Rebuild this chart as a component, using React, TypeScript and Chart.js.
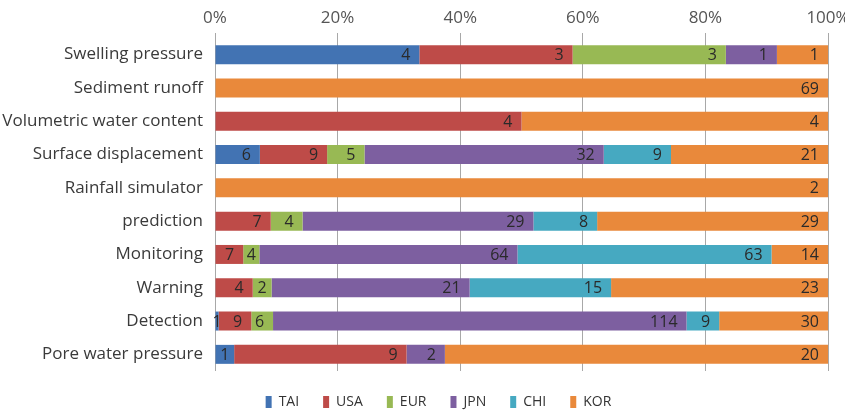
import React, { useEffect, useRef } from "react";
import { Chart, registerables } from "chart.js";

Chart.register(...registerables);

const categories = [
  "Swelling pressure",
  "Sediment runoff",
  "Volumetric water content",
  "Surface displacement",
  "Rainfall simulator",
  "prediction",
  "Monitoring",
  "Warning",
  "Detection",
  "Pore water pressure",
];

const seriesNames = ["TAI", "USA", "EUR", "JPN", "CHI", "KOR"];
const TAI = [4, 0, 0, 6, 0, 0, 0, 0, 1, 1];
const USA = [3, 0, 4, 9, 0, 7, 7, 4, 9, 9];
const EUR = [3, 0, 0, 5, 0, 4, 4, 2, 6, 0];
const JPN = [1, 0, 0, 32, 0, 29, 64, 21, 114, 2];
const CHI = [0, 0, 0, 9, 0, 8, 63, 15, 9, 0];
const KOR = [1, 69, 4, 21, 2, 29, 14, 23, 30, 20];
const seriesColors = ["#4273B3", "#BE4B48", "#98B954", "#7D5FA0", "#46A9C1", "#E9893B"];
const tickValues = [0, 20, 40, 60, 80, 100];

const FONT = "'Open Sans', 'Noto Sans', sans-serif";

export default function App() {
  const ref = useRef<HTMLCanvasElement | null>(null);

  useEffect(() => {
    if (!ref.current) return;
    const raw = [TAI, USA, EUR, JPN, CHI, KOR];
    const totals = categories.map((_, i) => raw.reduce((s, arr) => s + arr[i], 0));

    const labelPlugin = {
      id: "segLabels",
      afterDatasetsDraw(chart: any) {
        const ctx = chart.ctx;
        ctx.save();
        ctx.font = `16px ${FONT}`;
        ctx.fillStyle = "#2a2a2a";
        ctx.textBaseline = "middle";
        chart.data.datasets.forEach((ds: any, di: number) => {
          const meta = chart.getDatasetMeta(di);
          meta.data.forEach((el: any, i: number) => {
            const v = raw[di][i];
            if (!v) return;
            const txt = String(v);
            const w = ctx.measureText(txt).width;
            const start = Math.min(el.base, el.x);
            const end = Math.max(el.base, el.x);
            const pad = 9;
            if (end - start < w + pad + 2) {
              ctx.textAlign = "center";
              ctx.fillText(txt, (start + end) / 2, el.y + 1);
            } else {
              ctx.textAlign = "right";
              ctx.fillText(txt, end - pad, el.y + 1);
            }
          });
        });
        ctx.restore();
      },
    };

    const legendPatch = {
      id: "legendPatch",
      beforeInit(chart: any) {
        const lg = chart.legend;
        if (!lg) return;
        const origFit = lg.fit;
        lg.fit = function () {
          origFit.call(this);
          this.height = 39;
        };
        const origDraw = lg.draw;
        lg.draw = function () {
          const c = this.ctx;
          c.save();
          c.translate(16, 0);
          origDraw.call(this);
          c.restore();
        };
      },
    };

    const chart = new Chart(ref.current, {
      type: "bar",
      data: {
        labels: categories,
        datasets: seriesNames.map((name, di) => ({
          label: name,
          data: raw[di].map((v, i) => (v / totals[i]) * 100),
          backgroundColor: seriesColors[di],
          borderWidth: 0,
          barPercentage: 0.57,
          categoryPercentage: 1,
        })),
      },
      options: {
        indexAxis: "y",
        animation: false,
        responsive: false,
        maintainAspectRatio: false,
        layout: { padding: { left: 0, right: 0, top: 6, bottom: 0 } },
        plugins: {
          tooltip: { enabled: false },
          legend: {
            position: "bottom",
            labels: {
              boxWidth: 6,
              boxHeight: 12,
              padding: 24,
              color: "#333",
              font: { family: FONT, size: 14 },
            },
          },
        },
        scales: {
          x: {
            position: "top",
            stacked: true,
            min: 0,
            max: 100,
            afterBuildTicks(scale: any) {
              scale.ticks = tickValues.map((v) => ({ value: v }));
            },
            ticks: {
              callback: (v: any) => v + "%",
              color: "#555",
              font: { family: FONT, size: 17 },
              padding: 5,
              maxRotation: 0,
            },
            grid: { color: "#a8a8a8", tickLength: 5, lineWidth: 1 },
            border: { display: false },
            afterFit(scale: any) {
              scale.height = 32;
              scale.paddingRight = 17;
              scale.paddingLeft = 0;
            },
          },
          y: {
            stacked: true,
            ticks: {
              color: "#3a3a3a",
              font: { family: FONT, size: 17 },
              padding: 4,
              autoSkip: false,
            },
            grid: { display: false },
            border: { display: false },
            afterFit(scale: any) {
              scale.width = 215;
            },
          },
        },
      },
      plugins: [labelPlugin, legendPatch],
    } as any);
    return () => chart.destroy();
  }, []);

  return (
    <div style={{ position: "fixed", left: 0, top: 0, width: 845, height: 410, background: "#fff" }}>
      <canvas ref={ref} width={845} height={410} style={{ width: 845, height: 410 }} />
    </div>
  );
}
